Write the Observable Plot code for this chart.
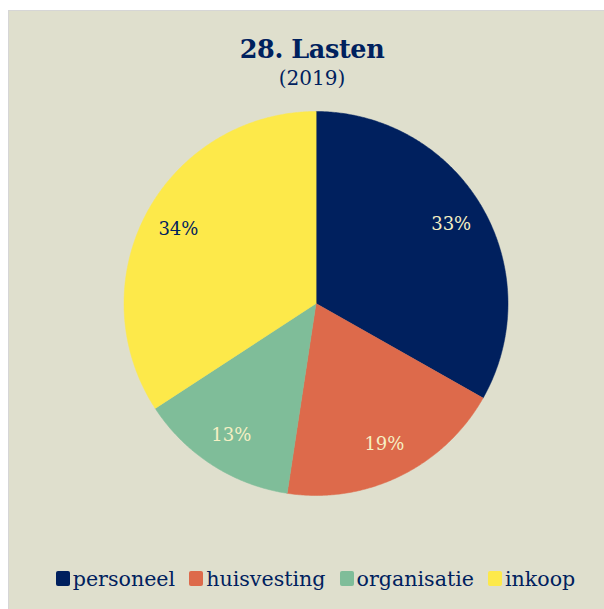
<!DOCTYPE html>
<html>
<head>
<meta charset="utf-8">
<script src="https://cdn.jsdelivr.net/npm/d3@7"></script>
<script src="https://cdn.jsdelivr.net/npm/@observablehq/plot@0.6"></script>
<style>
  html, body { margin: 0; padding: 0; background: #ffffff; }
  body { width: 604px; height: 609px; position: relative; overflow: hidden; font-family: "DejaVu Serif", serif; }
  #panel { position: absolute; left: 8px; top: 10px; width: 596px; height: 599px; background: #dfdfcd;
           border-top: 1px solid #d6d6d6; border-left: 1px solid #d6d6d6; box-sizing: border-box; }
  .title { position: absolute; left: 0; width: 624px; text-align: center; color: #00215e; line-height: normal; white-space: nowrap; }
  #t1 { top: 34px; font-size: 25.5px; font-weight: bold; letter-spacing: -0.4px; }
  #t2 { top: 66px; font-size: 20px; }
  #chart { position: absolute; left: 0; top: 100px; }
  #legend { position: absolute; left: 0; width: 631px; top: 567px; text-align: center; font-size: 20.6px; color: #00215e; line-height: normal; white-space: nowrap; }
  #legend .item { margin: 0 7px; }
  #legend .sw { display: inline-block; width: 14px; height: 15px; border-radius: 2px; margin-right: 3px; }
</style>
</head>
<body>
<div id="panel"></div>
<div class="title" id="t1">28. Lasten</div>
<div class="title" id="t2">(2019)</div>
<div id="chart"></div>
<div id="legend"></div>
<script>
const categories = ["personeel", "huisvesting", "organisatie", "inkoop"];
const shares = [33.2, 19.2, 13.4, 34.2];
const labels = ["33%", "19%", "13%", "34%"];
const colors = ["#00205e", "#dd6a4b", "#7fbd99", "#fde94a"];

const navy = "#00215e";
const cream = "#f6f0c4";

const arcs = d3.pie().sort(null).value(d => d.value)(
  categories.map((key, i) => ({key, value: shares[i], label: labels[i]}))
);

// polygon outline points for each slice (unit circle, y up)
const slicePoints = [];
for (const a of arcs) {
  slicePoints.push({key: a.data.key, x: 0, y: 0});
  const n = Math.max(2, Math.ceil((a.endAngle - a.startAngle) / (Math.PI / 360)));
  for (let j = 0; j <= n; j++) {
    const t = a.startAngle + (a.endAngle - a.startAngle) * j / n;
    slicePoints.push({key: a.data.key, x: Math.sin(t), y: Math.cos(t)});
  }
}

const labelR = 0.815;
const labelData = arcs.map(a => {
  const m = (a.startAngle + a.endAngle) / 2;
  return {key: a.data.key, label: a.data.label, x: labelR * Math.sin(m), y: labelR * Math.cos(m)};
});

const R = 192;
const cx = 315.5, cy = 203;
const W = 604, H = 410;

const chart = Plot.plot({
  width: W,
  height: H,
  marginLeft: cx - R,
  marginRight: W - cx - R,
  marginTop: cy - R,
  marginBottom: H - cy - R,
  x: {domain: [-1, 1], axis: null},
  y: {domain: [-1, 1], axis: null},
  color: {domain: categories, range: colors},
  style: {background: "transparent", overflow: "visible"},
  marks: [
    Plot.line(slicePoints, {x: "x", y: "y", z: "key", fill: "key", stroke: "key", strokeWidth: 0.5, curve: "linear-closed"}),
    Plot.text(labelData, {
      x: "x", y: "y", text: "label",
      fill: d => d.key === "inkoop" ? navy : cream,
      fontSize: 18, fontFamily: "DejaVu Serif", textAnchor: "middle"
    })
  ]
});
document.getElementById("chart").appendChild(chart);

const legend = document.getElementById("legend");
categories.forEach((c, i) => {
  const item = document.createElement("span");
  item.className = "item";
  const sw = document.createElement("span");
  sw.className = "sw";
  sw.style.background = colors[i];
  item.appendChild(sw);
  item.appendChild(document.createTextNode(c));
  legend.appendChild(item);
});
</script>
</body>
</html>
